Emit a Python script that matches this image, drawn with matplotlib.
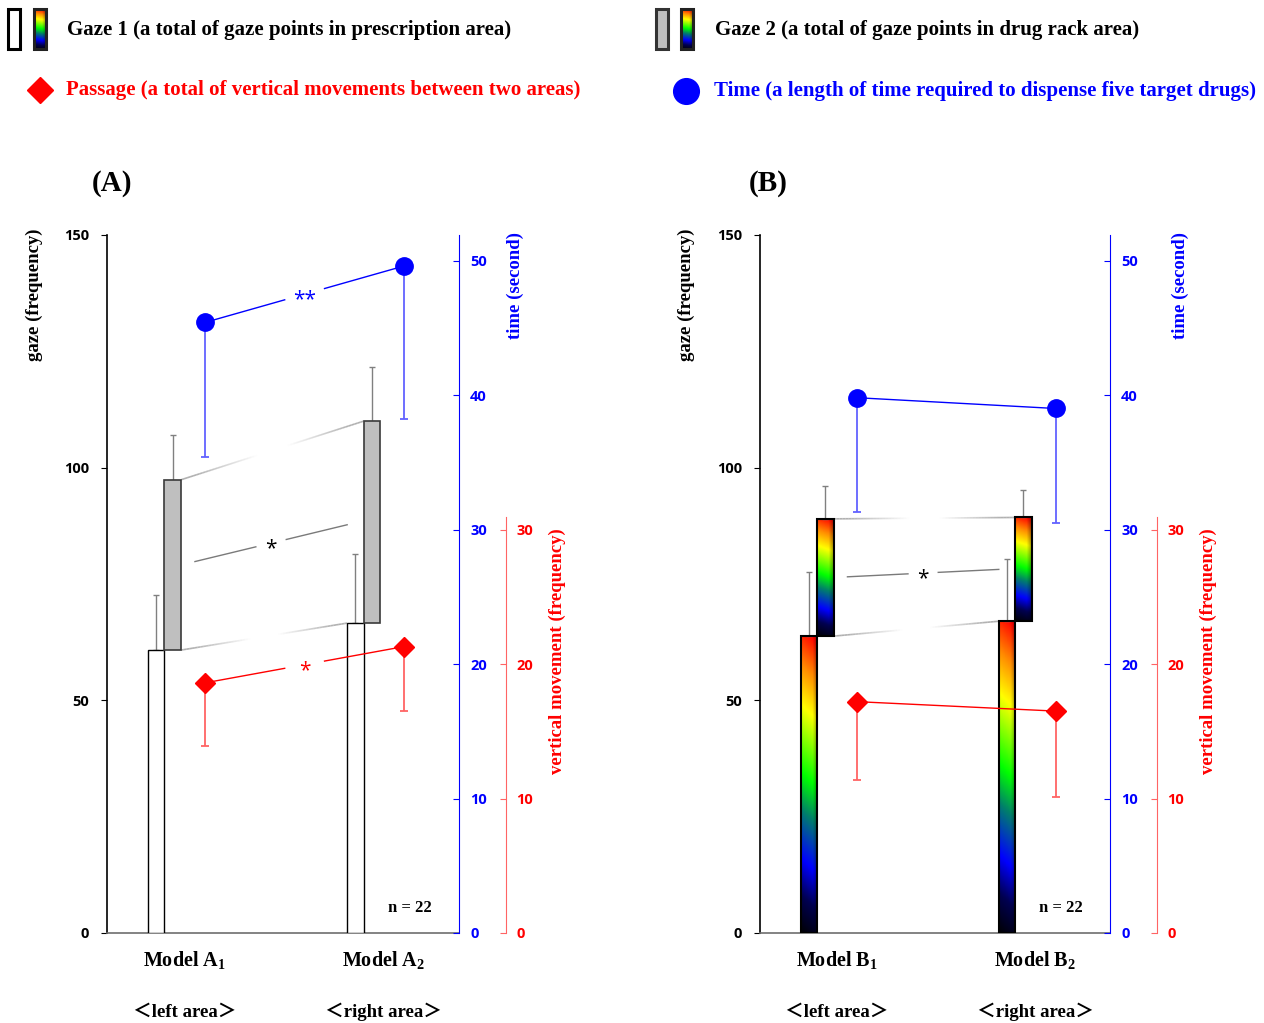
import numpy as np
import matplotlib
matplotlib.use('Agg')
import matplotlib.pyplot as plt
from matplotlib.colors import LinearSegmentedColormap
from matplotlib.patches import Rectangle
from matplotlib.collections import LineCollection

plt.rcParams['font.family'] = 'Open Sans'
plt.rcParams['font.weight'] = 'bold'
plt.rcParams['mathtext.fontset'] = 'custom'
plt.rcParams['mathtext.rm'] = 'Liberation Serif:bold'
plt.rcParams['mathtext.it'] = 'Liberation Serif:bold'
plt.rcParams['mathtext.bf'] = 'Liberation Serif:bold'
plt.rcParams['mathtext.default'] = 'rm'

SERIF = ['Liberation Serif', 'Noto Sans CJK JP']

# ---- data ----
models_a = ['Model A$_1$', 'Model A$_2$']
models_b = ['Model B$_1$', 'Model B$_2$']
areas = ['＜left area＞', '＜right area＞']

gaze1_a = [60.8, 66.6]
gaze1_a_sd = [11.8, 14.8]
gaze2_a = [36.6, 43.4]
gaze2_a_sd = [9.6, 11.6]
time_a = [45.4, 49.6]
time_a_sd = [10.0, 11.4]
passage_a = [18.6, 21.3]
passage_a_sd = [4.7, 4.8]
sig_a = {'gaze': '*', 'time': '**', 'passage': '*'}

gaze1_b = [63.8, 67.0]
gaze1_b_sd = [13.8, 13.4]
gaze2_b = [25.2, 22.3]
gaze2_b_sd = [7.1, 5.8]
time_b = [39.8, 39.0]
time_b_sd = [8.5, 8.5]
passage_b = [17.2, 16.5]
passage_b_sd = [5.8, 6.4]
sig_b = {'gaze': '*', 'time': '', 'passage': ''}

n_subjects = 22

# ---- styling ----
W, H = 1264, 1023
rainbow = LinearSegmentedColormap.from_list('rb', [
    (0.0, '#000006'), (0.12, '#000050'), (0.24, '#0000ff'), (0.40, '#00806a'),
    (0.52, '#00ff00'), (0.74, '#ffff00'), (0.87, '#ff8c00'), (1.0, '#ff0000')])
BLUE, BLUE_L = '#0000ff', '#6262ff'
RED, RED_L = '#ff0000', '#ff6464'
BAR_W = 0.083
MARK_OFF = 0.245
LAB_OFF = 0.143
GAP = (0.40, 0.60)


def px_rect(l, r, t, b):
    return [l / W, 1 - b / H, (r - l) / W, (b - t) / H]


def gradient_fill(ax, x0, x1, y0, y1, clip=None):
    yy, xx = np.mgrid[0:1:240j, 0:1:24j]
    v = np.clip(yy * 0.96 + 0.05 * xx, 0, 1)
    rgb = rainbow(v)[..., :3]
    shade = 1 - 0.35 * np.clip((xx - 0.7) / 0.3, 0, 1)
    rgb = rgb * shade[..., None]
    im = ax.imshow(rgb, extent=[x0, x1, y0, y1], origin='lower',
                   aspect='auto', interpolation='bilinear', zorder=2)
    if clip is not None:
        im.set_clip_path(clip)
    return im


def fade_line(ax, x0, y0, x1, y1, n=60):
    xs = np.linspace(x0, x1, n + 1)
    ys = np.linspace(y0, y1, n + 1)
    segs = [[(xs[i], ys[i]), (xs[i + 1], ys[i + 1])] for i in range(n)]
    t = (np.arange(n) + 0.5) / n
    alpha = np.clip(np.abs(2 * t - 1) * 1.5 - 0.25, 0, 1) * 0.8
    cols = [(0.62, 0.62, 0.62, a) for a in alpha]
    ax.add_collection(LineCollection(segs, colors=cols, linewidths=1.2, zorder=1))


def gap_line(ax, x0, y0, x1, y1, mark, color, lw, text_color=None):
    if not mark:
        ax.plot([x0, x1], [y0, y1], color=color, lw=lw, zorder=3)
        return
    t0, t1 = GAP
    ax.plot([x0, x0 + (x1 - x0) * t0], [y0, y0 + (y1 - y0) * t0], color=color, lw=lw, zorder=3)
    ax.plot([x0 + (x1 - x0) * t1, x1], [y0 + (y1 - y0) * t1, y1], color=color, lw=lw, zorder=3)
    ax.annotate(mark, ((x0 + x1) / 2, (y0 + y1) / 2), xytext=(0, -4),
                textcoords='offset points', color=text_color or color, fontsize=15,
                ha='center', va='center', fontweight='normal')


def draw_panel(rect, models, g1, g1sd, g2, g2sd, tm, tmsd, ps, pssd, sig, colourful,
               title, lab_x):
    g = np.arange(len(models))
    g1, g2 = np.array(g1), np.array(g2)
    tot = g1 + g2

    ax = fig.add_axes(rect)
    ax.patch.set_alpha(0)
    if colourful:
        b1 = ax.bar(g, g1, width=BAR_W, facecolor='none', edgecolor='black', lw=1.5, zorder=3)
        b2 = ax.bar(g + BAR_W, g2, bottom=g1, width=BAR_W, facecolor='none',
                    edgecolor='black', lw=1.5, zorder=3)
        for p in list(b1) + list(b2):
            gradient_fill(ax, p.get_x(), p.get_x() + p.get_width(),
                          p.get_y(), p.get_y() + p.get_height(), clip=p)
    else:
        ax.bar(g, g1, width=BAR_W, color='white', edgecolor='black', lw=1.0, zorder=3)
        ax.bar(g + BAR_W, g2, bottom=g1, width=BAR_W, color='#bfbfbf',
               edgecolor='#3a3a3a', lw=1.2, zorder=3)
    ax.errorbar(g, g1, yerr=[np.zeros(2), g1sd], fmt='none', ecolor='#808080',
                elinewidth=1, capsize=2.5, capthick=1, zorder=2)
    ax.errorbar(g + BAR_W, tot, yerr=[np.zeros(2), g2sd], fmt='none', ecolor='#808080',
                elinewidth=1, capsize=2.5, capthick=1, zorder=2)

    # connecting lines between the two stacks
    xr = g[0] + 1.5 * BAR_W
    xl_top = g[1] + 0.5 * BAR_W
    xl_bot = g[1] - 0.5 * BAR_W
    fade_line(ax, xr, tot[0], xl_top, tot[1])
    fade_line(ax, xr, g1[0], xl_bot, g1[1])

    def on(x, xa, ya, xb, yb):
        return ya + (yb - ya) * (x - xa) / (xb - xa)
    xs0, xs1 = xr + 0.07, xl_bot
    ys0 = (on(xs0, xr, tot[0], xl_top, tot[1]) + on(xs0, xr, g1[0], xl_bot, g1[1])) / 2
    ys1 = (on(xs1, xr, tot[0], xl_top, tot[1]) + g1[1]) / 2
    gap_line(ax, xs0, ys0, xs1, ys1, sig['gaze'], '#7a7a7a', 1.0, text_color='black')

    ax.set_xlim(-0.247, 1.52)
    ax.set_ylim(0, 150)
    ax.set_yticks([0, 50, 100, 150])
    ax.set_xticks([])
    for s in ['top', 'right']:
        ax.spines[s].set_visible(False)
    ax.spines['bottom'].set_color('#6e6e6e')
    ax.spines['bottom'].set_linewidth(1.2)
    ax.spines['left'].set_linewidth(1.2)
    ax.tick_params(axis='y', direction='out', length=4, labelsize=10.5, pad=9)

    # time axis
    axt = ax.twinx()
    axt.set_ylim(0, 51.9)
    axt.set_yticks([0, 10, 20, 30, 40, 50])
    for s in ['top', 'left', 'bottom']:
        axt.spines[s].set_visible(False)
    axt.spines['right'].set_color(BLUE)
    axt.tick_params(axis='y', direction='in', length=4, color=BLUE, labelcolor=BLUE,
                    labelsize=10.5, pad=8)
    xm = g + MARK_OFF
    axt.errorbar(xm, tm, yerr=[tmsd, np.zeros(2)], fmt='none', ecolor=BLUE_L,
                 elinewidth=1.3, capsize=3, capthick=1.3, zorder=2)
    gap_line(axt, xm[0], tm[0], xm[1], tm[1], sig['time'], BLUE, 1.0)
    axt.plot(xm, tm, 'o', ms=12.5, color=BLUE, zorder=5)

    # passage axis
    axp = ax.twinx()
    axp.set_ylim(0, 51.9)
    axp.set_yticks([0, 10, 20, 30])
    for s in ['top', 'left', 'bottom']:
        axp.spines[s].set_visible(False)
    axp.spines['right'].set_position(('axes', 1 + 46.5 / (rect[2] * W)))
    axp.spines['right'].set_bounds(0, 30.9)
    axp.spines['right'].set_color(RED_L)
    axp.tick_params(axis='y', direction='in', length=4, color=RED_L, labelcolor=RED,
                    labelsize=10.5, pad=8)
    axp.errorbar(xm, ps, yerr=[pssd, np.zeros(2)], fmt='none', ecolor=RED_L,
                 elinewidth=1.3, capsize=3, capthick=1.3, zorder=2)
    gap_line(axp, xm[0], ps[0], xm[1], ps[1], sig['passage'], RED, 1.0)
    axp.plot(xm, ps, 'D', ms=10.5, color=RED, zorder=5)
    axp.set_xlim(-0.247, 1.52)

    # category labels
    for i in range(len(models)):
        ax.text(g[i] + LAB_OFF, -0.039, models[i], transform=ax.get_xaxis_transform(),
                ha='center', va='center', fontsize=14.5, family=SERIF, fontweight='bold')
        ax.text(g[i] + LAB_OFF, -0.113, areas[i], transform=ax.get_xaxis_transform(),
                ha='center', va='center', fontsize=13.5, family=SERIF, fontweight='bold')
    ax.text(0.861, 0.036, 'n = %d' % n_subjects, transform=ax.transAxes, ha='center',
            va='center', fontsize=12, family=SERIF, fontweight='bold')

    # axis titles
    ax.text(lab_x[0], 0.914, 'gaze (frequency)', transform=ax.transAxes, rotation=90,
            ha='center', va='center', fontsize=13.5, family=SERIF, fontweight='bold')
    ax.text(lab_x[1], 0.928, 'time (second)', transform=ax.transAxes, rotation=90,
            ha='center', va='center', fontsize=13.5, family=SERIF, fontweight='bold',
            color=BLUE)
    ax.text(lab_x[2], 0.404, 'vertical movement (frequency)', transform=ax.transAxes,
            rotation=90, ha='center', va='center', fontsize=13.5, family=SERIF,
            fontweight='bold', color=RED)
    ax.text(lab_x[3], 1.074, title, transform=ax.transAxes, ha='center', va='center',
            fontsize=21, family=SERIF, fontweight='bold')


fig = plt.figure(figsize=(12.64, 10.23), dpi=100)

# legend drawn in pixel space
leg = fig.add_axes([0, 0, 1, 1])
leg.set_xlim(0, W)
leg.set_ylim(H, 0)
leg.axis('off')
leg.add_patch(Rectangle((8, 9), 12, 40, facecolor='white', edgecolor='black', lw=2.2))
leg.add_patch(Rectangle((656, 9), 12, 40, facecolor='#bfbfbf', edgecolor='#333333', lw=2.2))
for x0 in (34, 681):
    r = Rectangle((x0, 9), 12, 40, facecolor='none', edgecolor='#222222', lw=2.2, zorder=3)
    leg.add_patch(r)
    gradient_fill(leg, x0, x0 + 12, 49, 9)
leg.set_xlim(0, W)
leg.set_ylim(H, 0)
leg.plot([40], [90], 'D', ms=13.2, color=RED)
leg.plot([686], [91], 'o', ms=18.5, color=BLUE)
leg.text(67, 30, 'Gaze 1 (a total of gaze points in prescription area)', ha='left',
         va='center', fontsize=15, family=SERIF, fontweight='bold')
leg.text(715, 30, 'Gaze 2 (a total of gaze points in drug rack area)', ha='left',
         va='center', fontsize=15, family=SERIF, fontweight='bold')
leg.text(66, 90, 'Passage (a total of vertical movements between two areas)', ha='left',
         va='center', fontsize=15, family=SERIF, fontweight='bold', color=RED)
leg.text(714, 91, 'Time (a length of time required to dispense five target drugs)',
         ha='left', va='center', fontsize=15, family=SERIF, fontweight='bold', color=BLUE)

draw_panel(px_rect(107, 459, 235, 933), models_a, gaze1_a, gaze1_a_sd, gaze2_a, gaze2_a_sd,
           time_a, time_a_sd, passage_a, passage_a_sd, sig_a, False, '(A)',
           (-0.205, 1.159, 1.278, 0.014))
draw_panel(px_rect(760, 1110, 235, 933), models_b, gaze1_b, gaze1_b_sd, gaze2_b, gaze2_b_sd,
           time_b, time_b_sd, passage_b, passage_b_sd, sig_b, True, '(B)',
           (-0.211, 1.2, 1.28, 0.023))

fig.savefig('out.png', dpi=100)
